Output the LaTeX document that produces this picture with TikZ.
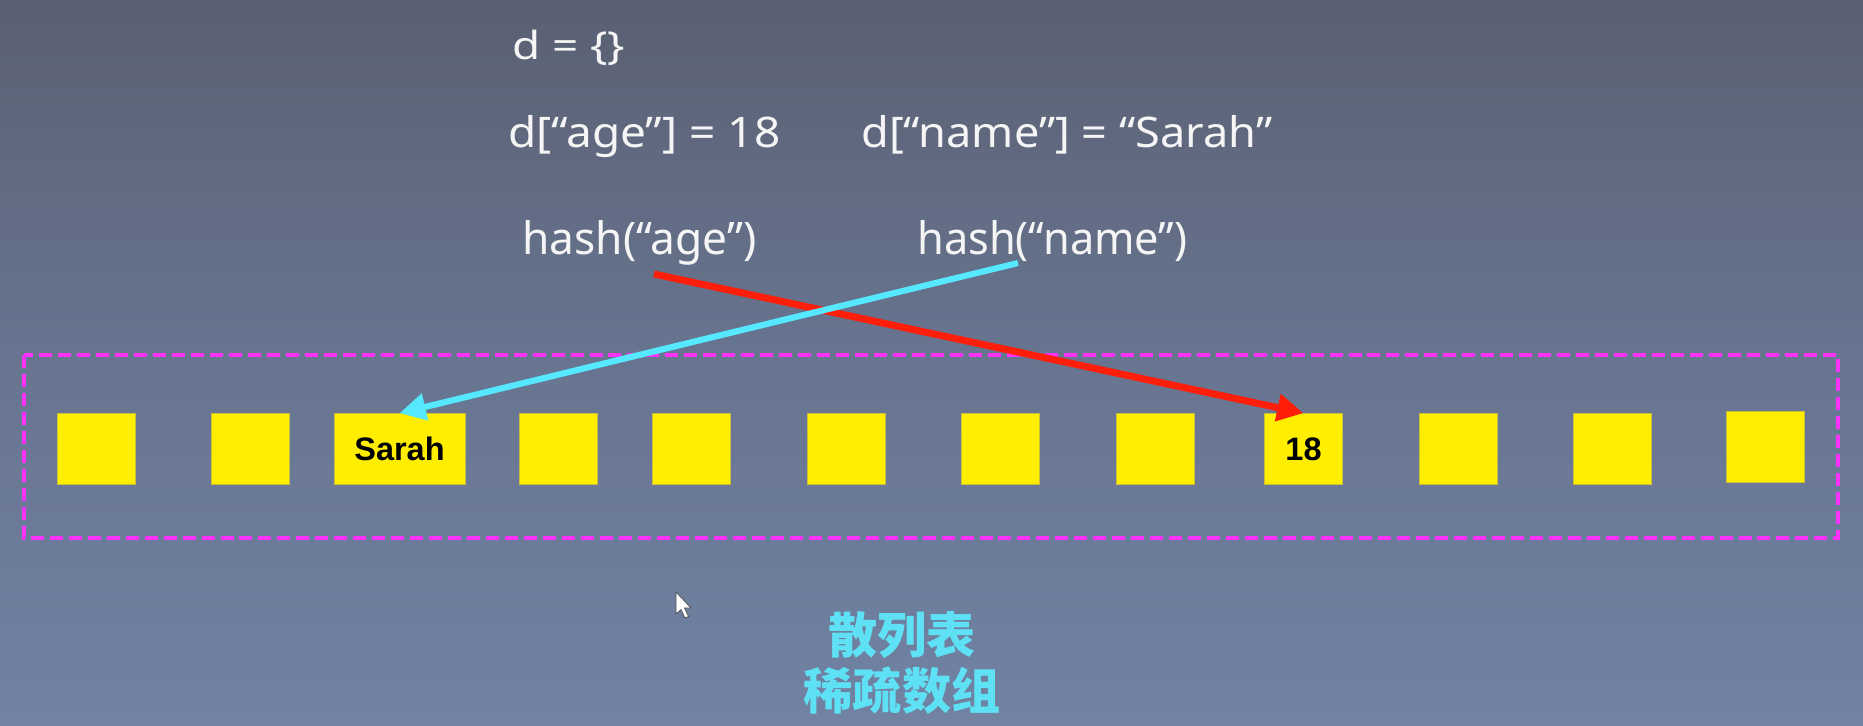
\documentclass[tikz,border=0pt]{standalone}
\usepackage{fontspec}
\usepackage{graphicx}
\setmainfont{Noto Sans CJK SC}
\newfontfamily\codefont{Noto Sans}
\newfontfamily\boxfont{Liberation Sans}
\usetikzlibrary{arrows.meta}
\definecolor{bgtop}{RGB}{90,96,114}
\definecolor{bgmid}{RGB}{104,117,145}
\definecolor{bgbot}{RGB}{113,130,163}
\definecolor{cellyellow}{RGB}{255,238,0}
\definecolor{celledge}{RGB}{200,190,60}
\definecolor{arrred}{RGB}{255,30,10}
\definecolor{arrcyan}{RGB}{85,232,255}
\definecolor{dashmag}{RGB}{250,50,250}
\definecolor{txtwhite}{RGB}{245,245,245}
\definecolor{cjkcyan}{RGB}{95,225,245}
\tikzset{
  codetext/.style={anchor=base west, inner sep=0pt, text=txtwhite},
  cell/.style={draw=celledge, line width=0.4pt, fill=cellyellow, minimum width=1.56cm, minimum height=1.42cm, inner sep=0pt, font=\boxfont\bfseries\fontsize{18.5}{20}\selectfont, text=black},
  redarrow/.style={draw=arrred, line width=4pt, -{Triangle[length=15pt,width=15pt]}},
  cyanarrow/.style={draw=arrcyan, line width=3.5pt, -{Triangle[length=15pt,width=15pt]}},
  cjk/.style={inner sep=0pt, text=cjkcyan, font=\bfseries\fontsize{28}{30}\selectfont},
}
\begin{document}
\begin{tikzpicture}[x=0.02cm, y=-0.02cm]
\shade[top color=bgtop, bottom color=bgbot, middle color=bgmid] (0,0) rectangle (1863,725);
\path[use as bounding box] (0,0) rectangle (1863,725);

% code lines
\node[codetext, font=\codefont\fontsize{22}{24}\selectfont] (l1) at (512,59) {\resizebox{2.26cm}{\height}{d = \{\}}};
\node[codetext, font=\codefont\fontsize{24}{26}\selectfont] (l2) at (508,147) {\resizebox{5.44cm}{\height}{d[“age”] = 18}};
\node[codetext, font=\codefont\fontsize{24}{26}\selectfont] (l3) at (861,147) {\resizebox{8.22cm}{\height}{d[“name”] = “Sarah”}};
\node[codetext, font=\codefont\fontsize{25.5}{28}\selectfont] (ha) at (522,254) {\resizebox{4.68cm}{\height}{hash(“age”)}};
\node[codetext, font=\codefont\fontsize{25.5}{28}\selectfont] (hn) at (917,254) {\resizebox{5.40cm}{\height}{hash(“name”)}};

% dashed frame
\draw[dashmag, line width=2.4pt, dash pattern=on 7.4pt off 3.4pt] (24,355) rectangle (1838,538);

% cells
\node[cell] (b1) at (96,449) {};
\node[cell] (b2) at (250.5,449) {};
\node[cell, minimum width=2.62cm] (b3) at (399.5,449) {Sarah};
\node[cell] (b4) at (558.5,449) {};
\node[cell] (b5) at (691.5,449) {};
\node[cell] (b6) at (846,449) {};
\node[cell] (b7) at (1000.5,449) {};
\node[cell] (b8) at (1155,449) {};
\node[cell] (b9) at (1303.5,449) {18};
\node[cell] (b10) at (1458,449) {};
\node[cell] (b11) at (1612,449) {};
\node[cell] (b12) at (1765.5,447) {};

% arrows
\coordinate (ra) at (654,274);
\coordinate (ca) at (1018,263);
\draw[redarrow] (ra) -- (b9.north);
\draw[cyanarrow] (ca) -- (b3.north);

% caption
\node[cjk] (c1) at (902,635) {散列表};
\node[cjk] (c2) at (902,691) {稀疏数组};

% cursor
\filldraw[fill=white, draw=gray!60!black, line width=0.4pt]
  (676,592) -- (676,614) -- (681,609.5) -- (685,618) -- (688.5,616.5) -- (684.5,608) -- (691,608) -- cycle;
\end{tikzpicture}
\end{document}
